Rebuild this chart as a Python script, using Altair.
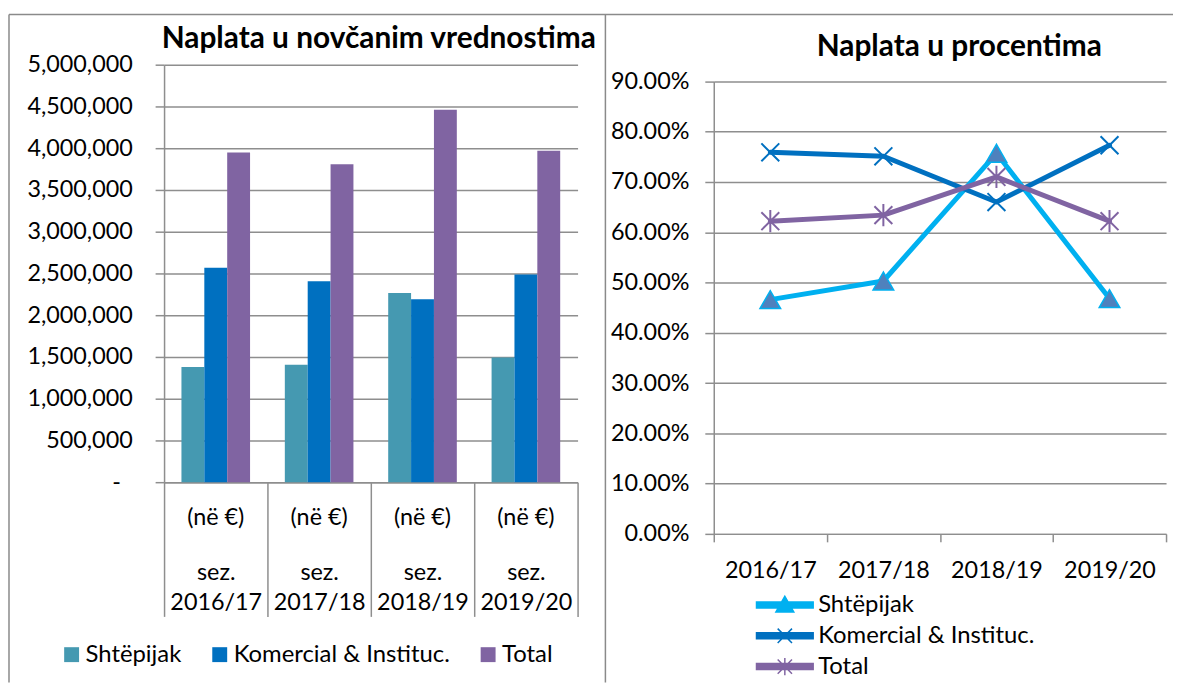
import altair as alt
import pandas as pd

# ---------------- data ----------------
seasons = ["2016/17", "2017/18", "2018/19", "2019/20"]
series = ["Shtëpijak", "Komercial & Instituc.", "Total"]

shtepijak_eur = [1379000, 1406000, 2266000, 1494000]
komercial_eur = [2567000, 2405000, 2191000, 2488000]
total_eur = [3948000, 3808000, 4460000, 3968000]

shtepijak_pct = [0.466, 0.503, 0.757, 0.468]
komercial_pct = [0.759, 0.751, 0.660, 0.773]
total_pct = [0.622, 0.634, 0.710, 0.622]

money_ticks = [0, 500000, 1000000, 1500000, 2000000, 2500000,
               3000000, 3500000, 4000000, 4500000, 5000000]
pct_ticks = [0.0, 0.1, 0.2, 0.3, 0.4, 0.5, 0.6, 0.7, 0.8, 0.9]

left_title = "Naplata u novčanim vrednostima"
right_title = "Naplata u procentima"
unit_label = "(në €)"
season_prefix = "sez."

bar_colors = ["#4599B1", "#0070C0", "#8064A2"]
line_colors = ["#00B0F0", "#0070C0", "#8064A2"]
tri_fill = "#4F81BD"

money = pd.DataFrame([
    {"season": s, "series": ser, "value": v}
    for ser, vals in zip(series, [shtepijak_eur, komercial_eur, total_eur])
    for s, v in zip(seasons, vals)
])
pct = pd.DataFrame([
    {"season": s, "series": ser, "value": v}
    for ser, vals in zip(series, [shtepijak_pct, komercial_pct, total_pct])
    for s, v in zip(seasons, vals)
])
units = pd.DataFrame({"season": seasons, "unit": [unit_label] * len(seasons)})

# ---------------- style ----------------
FONT = "Lato"
GRID = "#8E8E8E"
BORDER = "#8A8A8A"
LABEL_SIZE = 23.5
LW, LH = 416, 420
RW, RH = 455, 472
R_TOP = 16.8
SPACING = 137
one = pd.DataFrame({"k": [0]})

# ---------------- left chart ----------------
x_label_expr = "isValid(datum.value) ? ['" + season_prefix + "', datum.value] : ''"

XL = alt.X("season:N", sort=seasons, bandPosition=0.5,
           scale=alt.Scale(type="band", paddingInner=0, paddingOuter=0),
           axis=alt.Axis(title=None, labelExpr=x_label_expr,
                         labelLineHeight=30, labelPadding=-56.2,
                         tickBand="extent", tickSize=135, labelAngle=0))

bars = alt.Chart(money).mark_bar().encode(
    x=XL,
    xOffset=alt.XOffset("series:N", sort=series,
                        scale=alt.Scale(domain=series, paddingInner=0, paddingOuter=0.76)),
    y=alt.Y("value:Q",
            scale=alt.Scale(domain=[0, 5000000], nice=False),
            axis=alt.Axis(title=None, values=money_ticks, grid=True, tickSize=9,
                          labelPadding={"condition": {"test": "datum.value == 0", "value": 35},
                                        "value": 23},
                          labelExpr="datum.value == 0 ? '-' : format(datum.value, ',')")),
    color=alt.Color("series:N", sort=series,
                    scale=alt.Scale(domain=series, range=bar_colors),
                    legend=alt.Legend(orient="none", direction="horizontal",
                                      legendX=-105, legendY=581.5, title=None,
                                      symbolType="square", symbolSize=225,
                                      symbolStrokeWidth=0, labelOffset=2,
                                      columnPadding=26, padding=0,
                                      labelFont=FONT, labelFontSize=24,
                                      labelColor="black", labelLimit=400)),
)

unit_text = alt.Chart(units).mark_text(
    font=FONT, fontSize=LABEL_SIZE, align="center", baseline="middle", color="black"
).encode(x=XL, y=alt.value(456.5), text="unit:N")

left_title_mark = alt.Chart(pd.DataFrame({"t": [left_title]})).mark_text(
    font=FONT, fontSize=30, fontWeight="bold", align="center",
    baseline="alphabetic", color="black"
).encode(text="t:N", x=alt.value(216), y=alt.value(-16.5))

border_left = alt.Chart(one).mark_rule(color=BORDER, strokeWidth=1.5).encode(
    x=alt.value(-156), y=alt.value(-50.5), y2=alt.value(621.5))
border_mid = alt.Chart(one).mark_rule(color=BORDER, strokeWidth=1.5).encode(
    x=alt.value(444), y=alt.value(-50.5), y2=alt.value(621.5))
border_top = alt.Chart(one).mark_rule(color=BORDER, strokeWidth=1.5).encode(
    x=alt.value(-156), x2=alt.value(1015), y=alt.value(-50.5))

left = alt.layer(border_left, border_mid, border_top, bars, unit_text,
                 left_title_mark).properties(width=LW, height=LH)

# ---------------- right chart ----------------
X = alt.X("season:N", sort=seasons, bandPosition=0.5,
          scale=alt.Scale(type="band", paddingInner=0, paddingOuter=0),
          axis=alt.Axis(title=None, tickBand="extent", tickSize=8,
                        labelPadding=16.8, labelAngle=0))
Y = alt.Y("value:Q",
          scale=alt.Scale(domain=[0, 0.9], nice=False, range=[RH, R_TOP]),
          axis=alt.Axis(title=None, values=pct_ticks, format=".2%", grid=True,
                        tickSize=9, labelPadding=16))

lines = alt.Chart(pct).mark_line(strokeWidth=5, strokeCap="round", strokeJoin="round").encode(
    x=X, y=Y,
    color=alt.Color("series:N", sort=series,
                    scale=alt.Scale(domain=series, range=line_colors), legend=None),
)

x_path = "M-1,-1L1,1M-1,1L1,-1"
star_path = "M-1,-1L1,1M-1,1L1,-1M0,-1.25L0,1.25"

pts_sh = alt.Chart(pct).transform_filter(alt.datum.series == series[0]).mark_point(
    shape="triangle-up", filled=True, fill=tri_fill, stroke=line_colors[0],
    strokeWidth=1.5, size=430, opacity=1).encode(x=X, y=Y)
pts_ko = alt.Chart(pct).transform_filter(alt.datum.series == series[1]).mark_point(
    shape=x_path, filled=False, stroke=line_colors[1],
    strokeWidth=2, size=324, opacity=1).encode(x=X, y=Y)
pts_to = alt.Chart(pct).transform_filter(alt.datum.series == series[2]).mark_point(
    shape=star_path, filled=False, stroke=line_colors[2],
    strokeWidth=2, size=324, opacity=1).encode(x=X, y=Y)

legend_paths = [
    "M-2.375,-0.25L2.375,-0.25L2.375,0.25L-2.375,0.25Z M0,-0.72L0.75,0.6L-0.75,0.6Z",
    "M-2.375,-0.25L2.375,-0.25L2.375,0.25L-2.375,0.25Z M-0.6,-0.6L0.6,0.6M-0.6,0.6L0.6,-0.6",
    "M-2.375,-0.25L2.375,-0.25L2.375,0.25L-2.375,0.25Z M-0.6,-0.6L0.6,0.6M-0.6,0.6L0.6,-0.6M0,-0.72L0,0.72",
]


def rleg():
    # legend is hoisted to the concat level, so x is measured from the left panel
    return alt.Legend(orient="none", direction="vertical",
                      legendX=58.5 + LW + SPACING, legendY=530.5,
                      title=None, symbolSize=576, symbolStrokeWidth=1.5,
                      labelOffset=20.5, rowPadding=6, padding=0,
                      labelFont=FONT, labelFontSize=24, labelColor="black",
                      labelLimit=400)


legend_layer = alt.Chart(pct).transform_filter("false").mark_point(
    filled=True, opacity=1).encode(
    x=X, y=Y,
    fill=alt.Fill("series:N", sort=series,
                  scale=alt.Scale(domain=series, range=line_colors), legend=rleg()),
    stroke=alt.Stroke("series:N", sort=series,
                      scale=alt.Scale(domain=series, range=line_colors), legend=rleg()),
    shape=alt.Shape("series:N", sort=series,
                    scale=alt.Scale(domain=series, range=legend_paths), legend=rleg()),
)

right_title_mark = alt.Chart(pd.DataFrame({"t": [right_title]})).mark_text(
    font=FONT, fontSize=30, fontWeight="bold", align="center",
    baseline="alphabetic", color="black"
).encode(text="t:N", x=alt.value(247), y=alt.value(-8.5))

right = alt.layer(lines, pts_sh, pts_ko, pts_to, legend_layer, right_title_mark).properties(
    width=RW, height=RH)

chart = alt.hconcat(left, right, spacing=SPACING, bounds="flush").resolve_scale(
    color="independent", x="independent", y="independent"
).properties(
    padding={"top": 3, "left": 0, "right": 0, "bottom": 0}
).configure_view(stroke=None).configure_axis(
    labelFont=FONT, labelFontSize=LABEL_SIZE, labelColor="black",
    domainColor=GRID, domainWidth=1.5, tickColor=GRID, tickWidth=1.5,
    gridColor=GRID, gridWidth=1.5, labelOverlap=False
)

chart.save("out.html", embed_options={"renderer": "svg", "actions": False})
